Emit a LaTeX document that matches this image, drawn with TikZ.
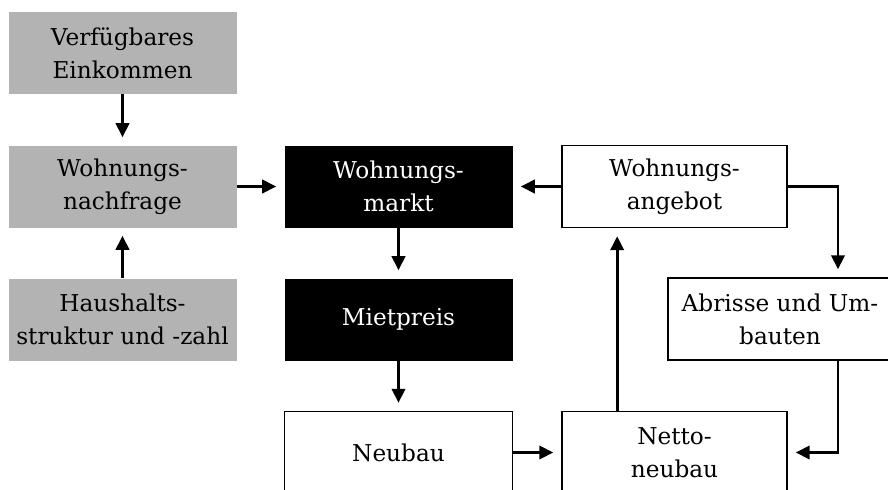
\documentclass[tikz,border=0pt]{standalone}
\usepackage{fontspec}
\setmainfont{DejaVu Serif}
\usepackage{tikz}
\usetikzlibrary{arrows.meta}

\definecolor{boxgray}{RGB}{179,179,179}

\tikzset{
  box/.style={rectangle, minimum width=171pt, minimum height=61.5pt, inner sep=0pt,
    align=center, font=\fontsize{17.4}{24.75}\selectfont},
  graybox/.style={box, fill=boxgray},
  darkbox/.style={box, fill=black, text=white},
  whitebox/.style={box, draw=black, line width=1.1pt, fill=white},
  arr/.style={line width=2.1pt, -{Triangle[length=10.5pt,width=10pt]}, shorten >=6pt}
}

\begin{document}
\begin{tikzpicture}[x=0.75pt,y=0.75pt,yscale=-1,xscale=1]
\useasboundingbox (0,0) rectangle (888,489);
\clip (0,0) rectangle (888,489);

%Shapes: left column
\node [graybox] (einkommen) at (122.5,53) {Verfügbares\\Einkommen};
\node [graybox] (nachfrage) at (122.5,186.5) {Wohnungs-\\nachfrage};
\node [graybox] (haushalt) at (122.5,319.5) {Haushalts-\\struktur und -zahl};
%Shapes: middle column
\node [darkbox] (markt) at (398.5,186.5) {Wohnungs-\\markt};
\node [darkbox] (mietpreis) at (398.5,319.5) {Mietpreis};
\node [whitebox] (neubau) at (398.5,452.5) {Neubau};
%Shapes: right column
\node [whitebox, minimum width=168.75pt] (angebot) at (674.5,186.5) {Wohnungs-\\angebot};
\node [whitebox, minimum width=168.75pt] (netto) at (674.5,452.5) {Netto-\\neubau};
\node [whitebox, minimum width=168pt] (abrisse) at (780,319) {Abrisse und Um-\\bauten};
\coordinate (knee) at (838,186.5);

%Connectors
\draw [arr] (einkommen) -- (nachfrage);
\draw [arr] (haushalt) -- (nachfrage);
\draw [arr] (nachfrage) -- (markt);
\draw [arr] (angebot) -- (markt);
\draw [arr] (markt) -- (mietpreis);
\draw [arr] (mietpreis) -- (neubau);
\draw [arr] (neubau) -- (netto);
\draw [arr] ([xshift=-43pt]netto.north) -- ([xshift=-43pt]angebot.south);
\draw [arr] (angebot.east) -| (abrisse.north -| knee);
\draw [arr] (abrisse.south -| knee) |- (netto.east);

\end{tikzpicture}
\end{document}
